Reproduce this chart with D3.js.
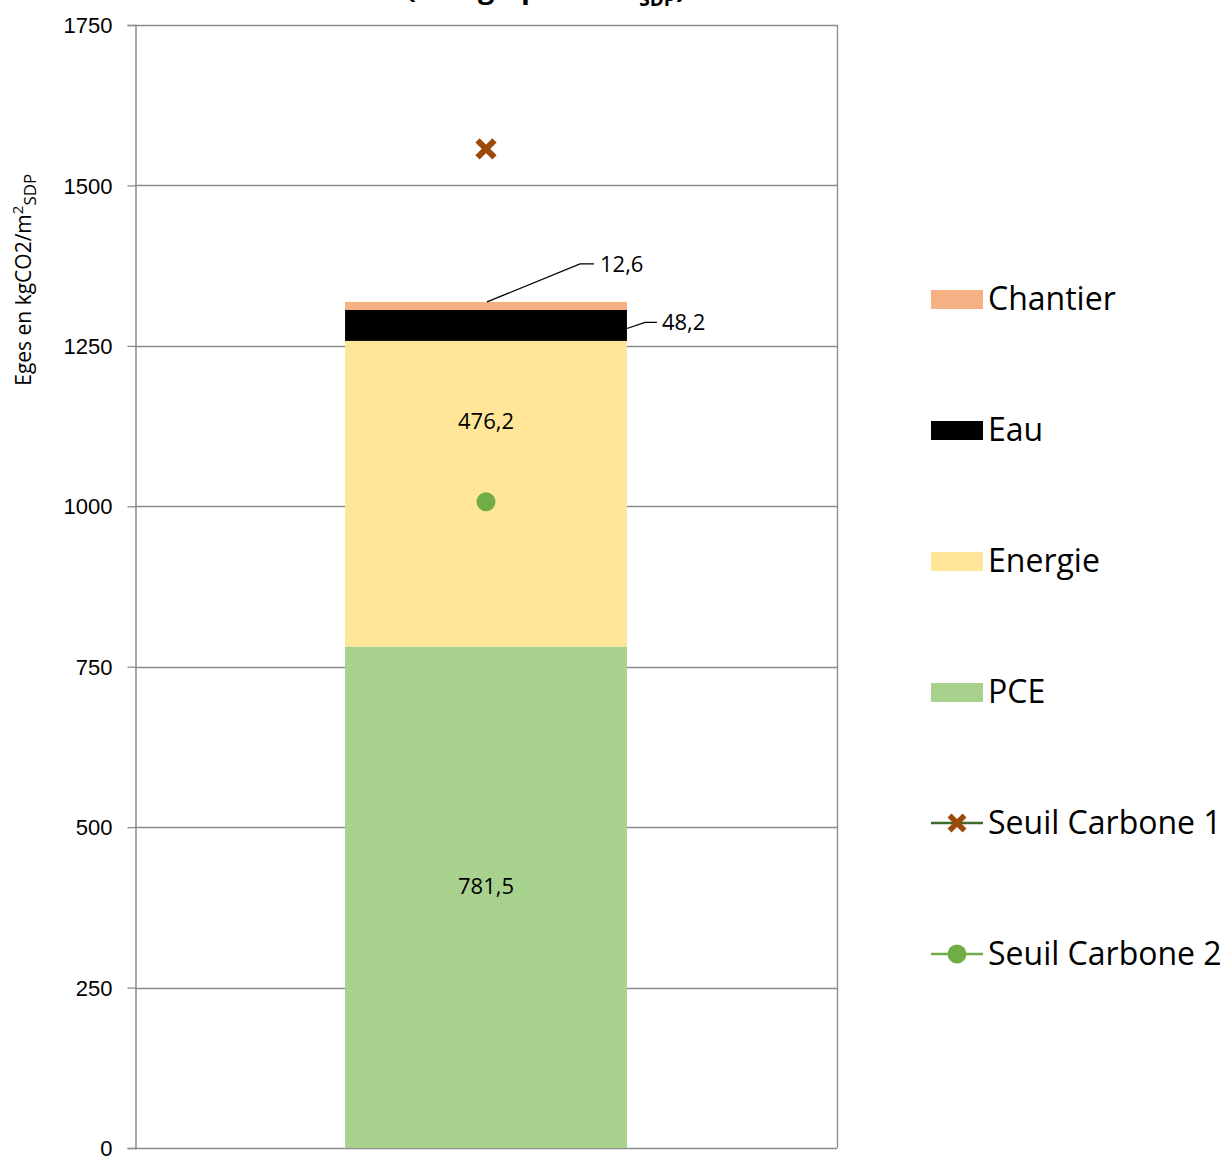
<!DOCTYPE html>
<html>
<head>
<meta charset="utf-8">
<script src="https://cdn.jsdelivr.net/npm/d3@7"></script>
<style>
  body { margin: 0; background: #fff; }
  svg { display: block; font-family: "Open Sans", "Noto Sans", sans-serif; }
</style>
</head>
<body>
<div id="chart"></div>
<script>
// data
const categories = ["Projet"];
const seriesNames = ["PCE", "Energie", "Eau", "Chantier"];
const seriesValues = [781.5, 476.2, 48.2, 12.6];
const seriesLabels = ["781,5", "476,2", "48,2", "12,6"];
const seuilNames = ["Seuil Carbone 1", "Seuil Carbone 2"];
const seuilValues = [1557, 1007];
const yTicks = [0, 250, 500, 750, 1000, 1250, 1500, 1750];

const width = 1229;
const height = 1163;
const marginTop = 25;
const marginLeft = 135;
const plotRight = 837;
const marginBottom = 15;

const colors = {
  PCE: "#a9d18e",
  Energie: "#ffe699",
  Eau: "#000000",
  Chantier: "#f4b183",
};
const gridColor = "#8c8c8c";

const svg = d3
  .select("#chart")
  .append("svg")
  .attr("width", width)
  .attr("height", height)
  .attr("viewBox", [0, 0, width, height]);

const x = d3.scaleBand(categories, [marginLeft, plotRight]).padding(0.427);
const y = d3.scaleLinear([0, 1750], [height - marginBottom, marginTop]);

// title, mostly cut off at the top of the image
const title = svg
  .append("text")
  .attr("x", 546)
  .attr("y", -2)
  .attr("text-anchor", "middle")
  .attr("font-weight", "bold")
  .attr("font-size", 29);
title.append("tspan").text("(en kgeqCO2/m²");
title.append("tspan").attr("dy", 8).attr("font-size", 19).text("SDP");
title.append("tspan").attr("dy", -8).text(")");

// grid lines
svg
  .append("g")
  .selectAll("line")
  .data(yTicks)
  .join("line")
  .attr("x1", marginLeft)
  .attr("x2", plotRight)
  .attr("y1", (d) => Math.round(y(d)) + 0.5)
  .attr("y2", (d) => Math.round(y(d)) + 0.5)
  .attr("stroke", gridColor)
  .attr("stroke-width", 1.3);

// right border
svg
  .append("line")
  .attr("x1", plotRight + 0.5)
  .attr("x2", plotRight + 0.5)
  .attr("y1", y(1750))
  .attr("y2", y(0))
  .attr("stroke", gridColor)
  .attr("stroke-width", 1.3);

// stacked bar
let cum = 0;
const stacked = seriesValues.map((v, i) => {
  const d = { name: seriesNames[i], y0: cum, y1: cum + v, label: seriesLabels[i] };
  cum += v;
  return d;
});

svg
  .append("g")
  .selectAll("rect")
  .data(stacked)
  .join("rect")
  .attr("x", x(categories[0]))
  .attr("width", x.bandwidth())
  .attr("y", (d) => y(d.y1))
  .attr("height", (d) => y(d.y0) - y(d.y1))
  .attr("fill", (d) => colors[d.name]);

// y axis
const yAxis = d3
  .axisLeft(y)
  .tickValues(yTicks)
  .tickSize(8)
  .tickPadding(15)
  .tickFormat(d3.format("d"));

svg
  .append("g")
  .attr("transform", `translate(${marginLeft + 0.5},0)`)
  .call(yAxis)
  .call((g) => g.select(".domain").attr("stroke", gridColor).attr("stroke-width", 1.5))
  .call((g) => g.selectAll(".tick line").attr("stroke", gridColor).attr("stroke-width", 1.3))
  .call((g) =>
    g.selectAll(".tick text").attr("font-size", 22).attr("fill", "#000").attr("dy", "0.35em")
  );

// y axis title
const yTitle = svg
  .append("text")
  .attr("transform", `translate(31,${y(1353)}) rotate(-90)`)
  .attr("text-anchor", "middle")
  .attr("font-size", 21);
yTitle.append("tspan").text("Eges en kgCO2/m");
yTitle.append("tspan").attr("dy", -8).attr("font-size", 15).text("2");
yTitle.append("tspan").attr("dy", 13).attr("font-size", 17).text("SDP");

// data labels
const cx = x(categories[0]) + x.bandwidth() / 2;
const labelG = svg.append("g").attr("font-size", 22).attr("fill", "#000");

// PCE and Energie inside the bar
labelG
  .append("text")
  .attr("x", cx)
  .attr("y", (y(stacked[0].y0) + y(stacked[0].y1)) / 2 - 11)
  .attr("dy", "0.35em")
  .attr("text-anchor", "middle")
  .text(stacked[0].label);

labelG
  .append("text")
  .attr("x", cx)
  .attr("y", y(stacked[1].y1) + 80)
  .attr("dy", "0.35em")
  .attr("text-anchor", "middle")
  .text(stacked[1].label);

// Eau with leader line
const eauY = (y(stacked[2].y0) + y(stacked[2].y1)) / 2;
const barRight = x(categories[0]) + x.bandwidth();
svg
  .append("polyline")
  .attr("points", [[barRight, eauY + 3], [barRight + 18, eauY - 3], [barRight + 30, eauY - 3]].join(" "))
  .attr("fill", "none")
  .attr("stroke", "#000")
  .attr("stroke-width", 1.2);
labelG
  .append("text")
  .attr("x", barRight + 35)
  .attr("y", eauY - 3)
  .attr("dy", "0.35em")
  .text(stacked[2].label);

// Chantier with leader line
const chY = y(stacked[3].y1);
svg
  .append("polyline")
  .attr("points", [[cx + 1, chY], [cx + 94, chY - 38], [cx + 108, chY - 38]].join(" "))
  .attr("fill", "none")
  .attr("stroke", "#000")
  .attr("stroke-width", 1.2);
labelG
  .append("text")
  .attr("x", cx + 114)
  .attr("y", chY - 38)
  .attr("dy", "0.35em")
  .text(stacked[3].label);

// seuil markers
function cross(g, s, w) {
  g.append("path")
    .attr("d", `M${-s},${-s}L${s},${s}M${-s},${s}L${s},${-s}`)
    .attr("stroke", "#9c4a0a")
    .attr("stroke-width", w)
    .attr("stroke-linecap", "butt");
}

const s1 = svg.append("g").attr("transform", `translate(${cx},${y(seuilValues[0])})`);
cross(s1, 8.5, 6);

svg
  .append("circle")
  .attr("cx", cx)
  .attr("cy", y(seuilValues[1]))
  .attr("r", 9.5)
  .attr("fill", "#70ad47");

// legend
const legendItems = ["Chantier", "Eau", "Energie", "PCE", seuilNames[0], seuilNames[1]];
const legend = svg
  .append("g")
  .selectAll("g")
  .data(legendItems)
  .join("g")
  .attr("transform", (d, i) => `translate(931,${299 + i * 131})`);

legend
  .filter((d) => colors[d])
  .append("rect")
  .attr("x", 0)
  .attr("y", -9)
  .attr("width", 52)
  .attr("height", 19)
  .attr("fill", (d) => colors[d]);

legend
  .filter((d) => d === seuilNames[0])
  .call((g) =>
    g.append("line").attr("x1", 0).attr("x2", 52).attr("stroke", "#3e6b2c").attr("stroke-width", 2.5)
  )
  .append("g")
  .attr("transform", "translate(26,0)")
  .each(function () {
    cross(d3.select(this), 7.5, 5.5);
  });

legend
  .filter((d) => d === seuilNames[1])
  .call((g) =>
    g.append("line").attr("x1", 0).attr("x2", 52).attr("stroke", "#70ad47").attr("stroke-width", 2.5)
  )
  .append("circle")
  .attr("cx", 26)
  .attr("r", 9.5)
  .attr("fill", "#70ad47");

legend
  .append("text")
  .attr("x", 57)
  .attr("dy", "0.35em")
  .attr("font-size", 32)
  .text((d) => d);
</script>
</body>
</html>
